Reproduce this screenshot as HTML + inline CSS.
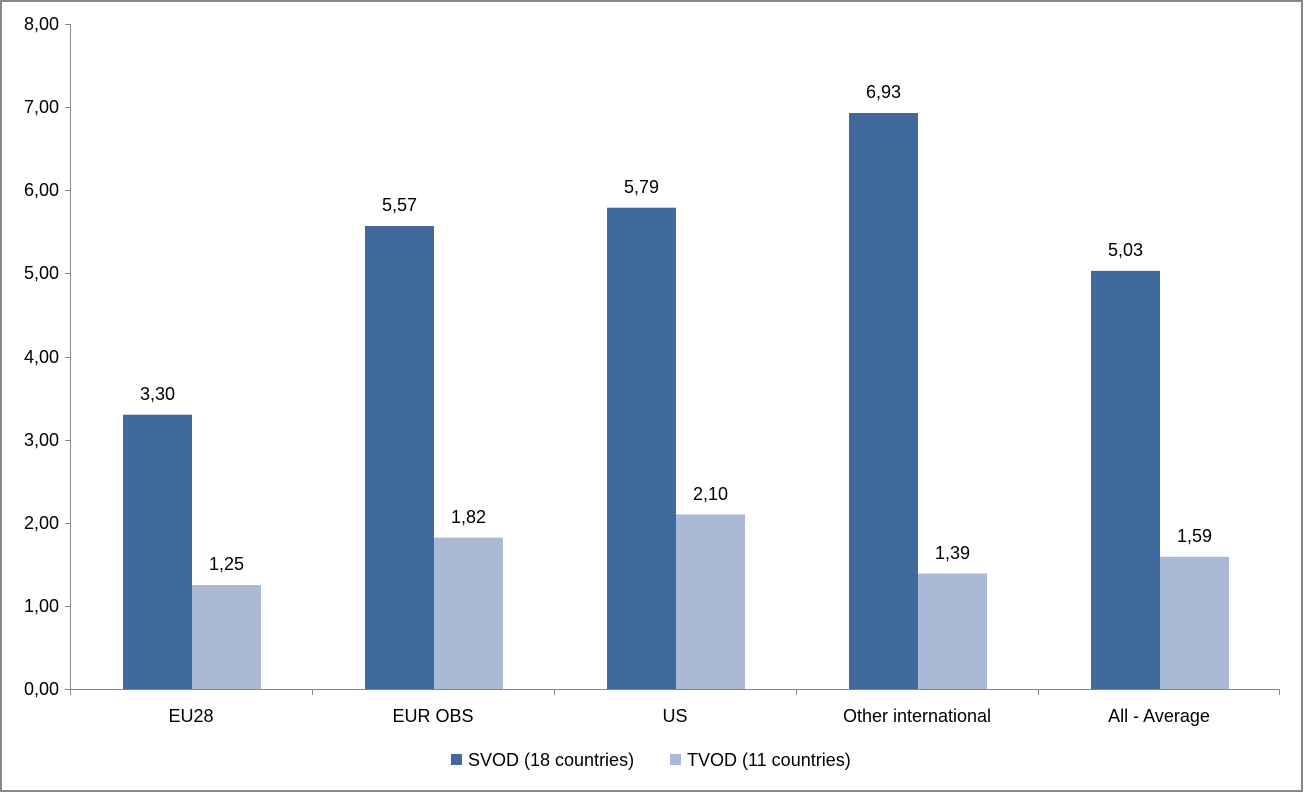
<!DOCTYPE html>
<html><head><style>body{margin:0;background:#fff}svg{display:block;font-family:"Liberation Sans",sans-serif}</style></head>
<body>
<svg width="1304" height="793" viewBox="0 0 1304 793">
<rect x="1" y="1" width="1301" height="790" fill="#fff" stroke="#888" stroke-width="2"/>
<g stroke="#888" stroke-width="1">
<line x1="70.5" y1="24" x2="70.5" y2="689"/>
<line x1="70" y1="689.5" x2="1280" y2="689.5"/>
<line x1="65" y1="689.5" x2="70" y2="689.5"/><line x1="65" y1="606.5" x2="70" y2="606.5"/>
<line x1="65" y1="523.5" x2="70" y2="523.5"/><line x1="65" y1="440.5" x2="70" y2="440.5"/>
<line x1="65" y1="357.5" x2="70" y2="357.5"/><line x1="65" y1="273.5" x2="70" y2="273.5"/>
<line x1="65" y1="190.5" x2="70" y2="190.5"/><line x1="65" y1="107.5" x2="70" y2="107.5"/>
<line x1="65" y1="24.5" x2="70" y2="24.5"/>
<line x1="70.5" y1="689" x2="70.5" y2="695"/><line x1="312.5" y1="689" x2="312.5" y2="695"/>
<line x1="554.5" y1="689" x2="554.5" y2="695"/><line x1="796.5" y1="689" x2="796.5" y2="695"/>
<line x1="1038.5" y1="689" x2="1038.5" y2="695"/><line x1="1279.5" y1="689" x2="1279.5" y2="695"/>
</g>
<g font-size="18" fill="#000" text-anchor="end">
<text x="59" y="695">0,00</text><text x="59" y="612">1,00</text><text x="59" y="529">2,00</text>
<text x="59" y="446">3,00</text><text x="59" y="363">4,00</text><text x="59" y="279">5,00</text>
<text x="59" y="196">6,00</text><text x="59" y="113">7,00</text><text x="59" y="30">8,00</text>
</g>
<g fill="#3F6A9B">
<rect x="123" y="414.7" width="69" height="274.3"/>
<rect x="365" y="226" width="69" height="463"/>
<rect x="607" y="207.7" width="69" height="481.3"/>
<rect x="849" y="113" width="69" height="576"/>
<rect x="1091" y="270.9" width="69" height="418.1"/>
</g>
<g fill="#AAB9D6">
<rect x="192" y="585.1" width="69" height="103.9"/>
<rect x="434" y="537.7" width="69" height="151.3"/>
<rect x="676" y="514.4" width="69" height="174.6"/>
<rect x="918" y="573.5" width="69" height="115.5"/>
<rect x="1160" y="556.8" width="69" height="132.2"/>
</g>
<g font-size="18" text-anchor="middle">
<text x="157.5" y="400">3,30</text><text x="226.5" y="570">1,25</text>
<text x="399.5" y="211">5,57</text><text x="468.5" y="523">1,82</text>
<text x="641.5" y="193">5,79</text><text x="710.5" y="500">2,10</text>
<text x="883.5" y="98">6,93</text><text x="952.5" y="559">1,39</text>
<text x="1125.5" y="256">5,03</text><text x="1194.5" y="542">1,59</text>
<text x="191" y="722">EU28</text><text x="433" y="722">EUR OBS</text>
<text x="675" y="722">US</text><text x="917" y="722">Other international</text>
<text x="1159" y="722">All - Average</text>
</g>
<rect x="451" y="754" width="11" height="11" fill="#3F6A9B"/>
<text x="468" y="766" font-size="18">SVOD (18 countries)</text>
<rect x="670" y="754" width="11" height="11" fill="#AAB9D6"/>
<text x="687" y="766" font-size="18">TVOD (11 countries)</text>
</svg>
</body></html>
